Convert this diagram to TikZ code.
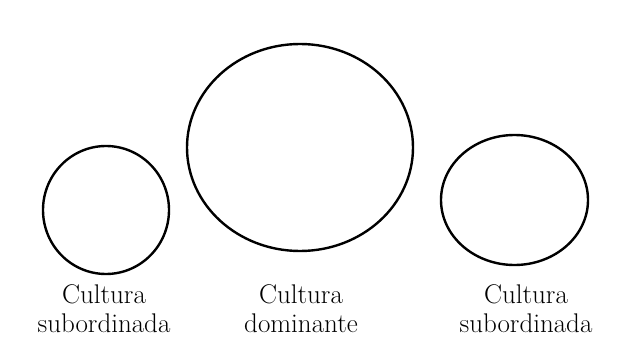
\documentclass[tikz,border=0pt]{standalone}
\usetikzlibrary{shapes.geometric}
\tikzset{
  cultura/.style={draw, ellipse, line width=2.4pt, inner sep=0pt},
  rotulo/.style={align=center, inner sep=0pt, font=\fontsize{27}{29}\selectfont}
}
\begin{document}
\begin{tikzpicture}[x=1pt,y=1pt]
    \useasboundingbox (0,0) rectangle (632,338);
        \node[cultura, minimum width=126pt, minimum height=128pt] (SubA) at (106,128){};
        \node[cultura, minimum width=226pt, minimum height=207pt] (Dom) at (300,190.5){};
        \node[cultura, minimum width=147pt, minimum height=130pt] (SubB) at (514.5,138){};
        \node[rotulo] (tSubA) at (104,29) {Cultura\\subordinada};
        \node[rotulo] (tDom) at (301,29) {Cultura\\dominante};
        \node[rotulo] (tSubB) at (526,29) {Cultura\\subordinada};
    \end{tikzpicture}
\end{document}
